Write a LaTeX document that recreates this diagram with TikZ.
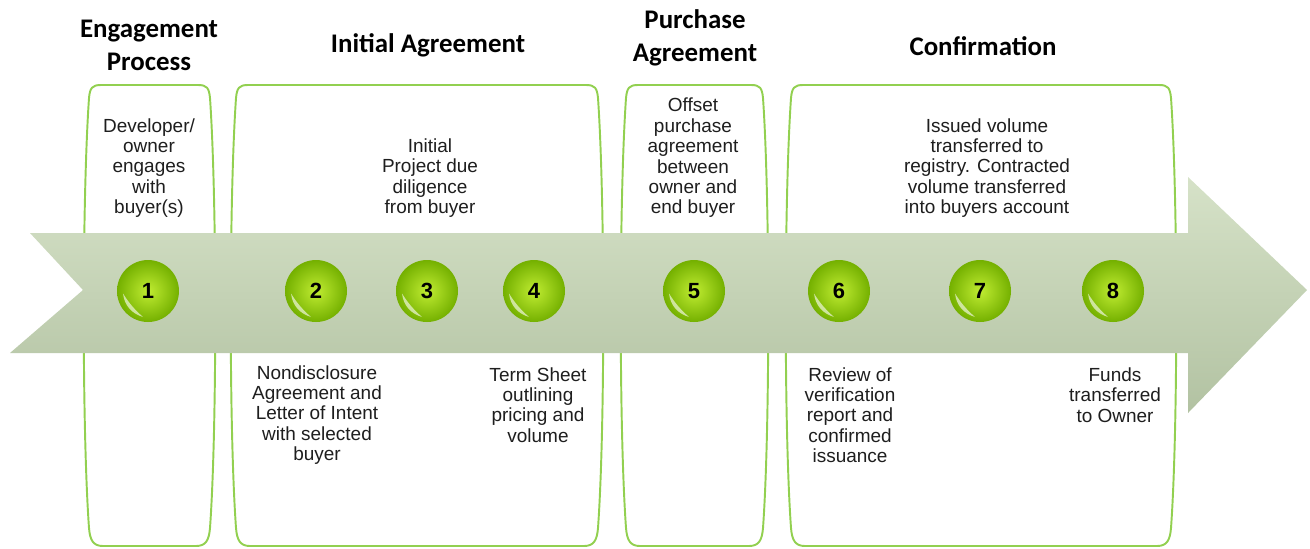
\documentclass[tikz,border=0pt]{standalone}
\usepackage{fontspec}
\setmainfont{Liberation Sans}
\newfontfamily\headfont{Carlito}
\usepackage{tikz}
\usetikzlibrary{%
	positioning,% wg. " of "
	calc
}
\definecolor{leaf}{HTML}{92D050}
\definecolor{sagetop}{RGB}{214,226,200}
\definecolor{sagebot}{RGB}{178,194,162}
\definecolor{balllight}{RGB}{192,236,50}
\definecolor{balldark}{RGB}{116,176,0}
\definecolor{inktext}{RGB}{30,30,30}
\tikzstyle{panel} = [draw = leaf, line width = 1.1pt, fill = white]
\tikzstyle{band} = [top color = sagetop, bottom color = sagebot]
\tikzstyle{ball} = [circle, minimum size = 1.24cm, inner sep = 0pt, shade, inner color = balllight, outer color = balldark, font = \fontsize{12.5}{12.5}\selectfont\bfseries,
	path picture = {\coordinate (c) at (path picture bounding box.center);
		\fill[white, opacity = 0.6] ($(c)+(-0.5cm,-0.05cm)$)
			.. controls ($(c)+(-0.47cm,-0.3cm)$) and ($(c)+(-0.32cm,-0.45cm)$) .. ($(c)+(-0.1cm,-0.52cm)$)
			.. controls ($(c)+(-0.28cm,-0.36cm)$) and ($(c)+(-0.38cm,-0.24cm)$) .. cycle;}]
\tikzstyle{heading} = [align = center, inner sep = 0pt, font = \headfont\bfseries\fontsize{15.3}{18.7}\selectfont]
\tikzstyle{note} = [align = center, inner sep = 0pt, text = inktext, font = \fontsize{10.8}{11.6}\selectfont]

\begin{document}
\begin{tikzpicture}[x=0.02cm, y=-0.02cm]
		\useasboundingbox (0,0) rectangle (1310,548);
		
		% First we draw the panels
		\foreach \xl/\xr in {83/216, 230/604, 620/769, 785/1177}
		\draw[panel] ({\xl+18},85) -- ({\xr-18},85)
			.. controls ({\xr-9},85) and ({\xr-7},88) .. ({\xr-6},98)
			.. controls ({\xr+1},200) and ({\xr+1},430) .. ({\xr-6},528)
			.. controls ({\xr-7},540) and ({\xr-10},546) .. ({\xr-20},546)
			-- ({\xl+20},546)
			.. controls ({\xl+10},546) and ({\xl+7},540) .. ({\xl+6},528)
			.. controls ({\xl-1},430) and ({\xl-1},200) .. ({\xl+6},98)
			.. controls ({\xl+7},88) and ({\xl+9},85) .. ({\xl+18},85);
		
		% Draw the arrow
		\path[band] (30,233) -- (1188,233) -- (1188,177) -- (1307,290)
			-- (1188,413) -- (1188,353) -- (10,353) -- (83,290) -- cycle;
		
		% Then the steps on the arrow
		\foreach \pos/\name in {{(148,291)/1}, {(316,291)/2}, {(427,291)/3}, {(534,291)/4},
			{(694,291)/5}, {(839,291)/6}, {(980,291)/7}, {(1113,291)/8}}
		\node[ball] (s\name) at \pos {\name};
		
		% Headings
		\node[heading] (engage) at (149,45) {Engagement\\Process};
		\node[heading] (initial) at (428,45) {Initial Agreement};
		\node[heading] (purchase) at (695,38) {Purchase\\Agreement};
		\node[heading] (confirm) at (983,46) {Confirmation};
		
		% Texts above the arrow
		\node[note] (t1) at (149,168) {Developer/\\owner\\engages\\with\\buyer(s)};
		\node[note] (t3) at (430,178) {Initial\\Project due\\diligence\\from buyer};
		\node[note] (t5) at (693,158) {Offset\\purchase\\agreement\\between\\owner and\\end buyer};
		\node[note] (t7) at (987,168) {Issued volume\\transferred to\\registry. Contracted\\volume transferred\\into buyers account};
		
		% Texts below the arrow
		\node[note] (t2) at (317,415) {Nondisclosure\\Agreement and\\Letter of Intent\\with selected\\buyer};
		\node[note] (t4) at (538,405) {Term Sheet\\outlining\\pricing and\\volume};
		\node[note] (t6) at (850,415) {Review of\\verification\\report and\\confirmed\\issuance};
		\node[note] (t8) at (1115,395) {Funds\\transferred\\to Owner};
		
\end{tikzpicture}
\end{document}
